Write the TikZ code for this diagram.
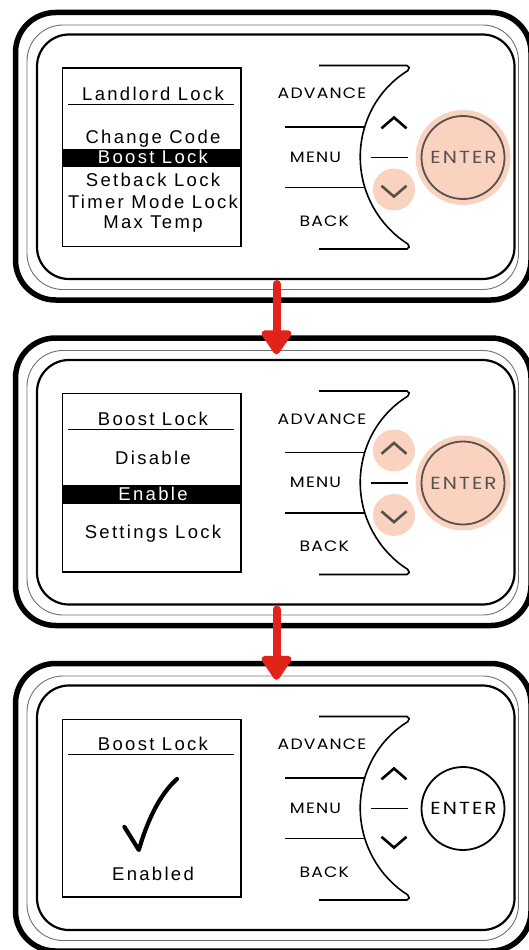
\documentclass[tikz,border=0pt]{standalone}
\usepackage{fontspec}
\setmainfont{Liberation Sans}
\newfontfamily\scrfont[LetterSpace=12.5]{Liberation Sans}
\newfontfamily\btnfont[LetterSpace=8,FakeStretch=1.15]{Poppins}
\newfontfamily\entfont[LetterSpace=12,FakeStretch=1.15]{Poppins}
\usetikzlibrary{arrows.meta}
\definecolor{peach}{HTML}{F9D3C0}
\definecolor{ringgray}{HTML}{5A504B}
\definecolor{arrowred}{HTML}{E2231A}
\definecolor{thingray}{HTML}{707070}

\newcommand\thermoframe{%
  \draw[thickframe] (15.5,12.5) rectangle (531,300);
  \draw[thinframe] (27,25) rectangle (518.5,289.5);
  \draw[innerframe] (37,34.5) rectangle (514.5,279);
}
% #1 prefix, #2 up fill, #3 up caret, #4 down fill, #5 down caret, #6 enter fill, #7 enter ring
\newcommand\thermobuttons[7]{%
  \fill[#2] (394,125) circle[radius=21];
  \fill[#4] (394,189.5) circle[radius=21];
  \fill[#6] (463,157.5) circle[radius=47.5];
  \draw[btnline] (319,65.5) -- (409,65.5) -- ([shift={(-121.5:102.7)}]463,157.3)
     arc[start angle=-121.5, end angle=-238.5, radius=102.7] -- (409,249) -- (319,249);
  \draw[btnline] (285,127) -- (364.8,127);
  \draw[btnline] (285,187.5) -- (364.8,187.5);
  \draw[btnline] (371,157.3) -- (408,157.3);
  \draw[caret,draw=#3] (381.5,128.3) -- (394,117.5) -- (406.5,128.3);
  \draw[caret,draw=#5] (381.5,185.8) -- (394,196.6) -- (406.5,185.8);
  \node[btnlabel] (#1adv) at (322,98.5) {ADVANCE};
  \node[btnlabel] (#1menu) at (315.5,162) {MENU};
  \node[btnlabel] (#1back) at (324.3,226.3) {BACK};
  \node[enterring,draw=#7,text=#7] (#1enter) at (463,157.5) {};
  \node[enterlabel,text=#7] (#1entertext) at (463.5,163.6) {ENTER};
}

\begin{document}
\begin{tikzpicture}[x=1pt,y=-1pt,
  thickframe/.style={line width=5.5pt, rounded corners=40pt},
  thinframe/.style={line width=0.9pt, draw=thingray, rounded corners=36pt},
  innerframe/.style={line width=2.2pt, rounded corners=32pt},
  screenbox/.style={line width=1.6pt},
  uline/.style={line width=1.8pt},
  scr/.style={font=\scrfont\fontsize{18.5}{21}\selectfont, inner sep=0pt, anchor=base},
  btnline/.style={line width=1.6pt, rounded corners=2pt},
  caret/.style={line width=2.6pt, miter limit=10},
  btnlabel/.style={font=\btnfont\fontsize{15}{17}\selectfont, inner sep=0pt, anchor=base},
  enterlabel/.style={font=\entfont\fontsize{17.5}{19}\selectfont, inner sep=0pt, anchor=base},
  enterring/.style={circle, minimum size=83pt, inner sep=0pt, line width=1.8pt},
  redarrow/.style={draw=arrowred, line width=8pt, line cap=round,
     -{Triangle[length=27pt,width=34pt,round=false]}},
]
\useasboundingbox (0,0) rectangle (529,950);
\clip (0,0) rectangle (529,950);

% ---------- panel 1 ----------
\thermoframe
\thermobuttons{a}{white}{black}{peach}{ringgray}{peach}{ringgray}
\draw[screenbox] (62.3,68) rectangle (240.7,246.5);
\node[scr] (aTitle) at (153,100.3) {Landlord Lock};
\draw[uline] (68,104.5) -- (234,104.5);
\node[scr] (aItemA) at (153,143.3) {Change Code};
\fill (62.3,148.5) rectangle (240.7,166.8);
\node[scr,text=white] (aItemB) at (153,163.3) {Boost Lock};
\node[scr] (aItemC) at (153,186.5) {Setback Lock};
\node[scr] (aItemD) at (153,208.3) {Timer Mode Lock};
\node[scr] (aItemE) at (153,228.5) {Max Temp};

% ---------- panel 2 ----------
\begin{scope}[shift={(0,325.5)}]
\thermoframe
\thermobuttons{b}{peach}{ringgray}{peach}{ringgray}{peach}{ringgray}
\end{scope}
\draw[screenbox] (62.3,393.3) rectangle (240.7,571.7);
\node[scr] (bTitle) at (153,425.7) {Boost Lock};
\draw[uline] (68,429.5) -- (234,429.5);
\node[scr] (bItemA) at (153,464) {Disable};
\fill (62.3,485) rectangle (240.7,504.3);
\node[scr,text=white] (bItemB) at (153,500.7) {Enable};
\node[scr] (bItemC) at (153,538.3) {Settings Lock};

% ---------- panel 3 ----------
\begin{scope}[shift={(0,651)}]
\thermoframe
\thermobuttons{c}{white}{black}{white}{black}{white}{black}
\end{scope}
\draw[screenbox] (62.3,719.3) rectangle (240.7,896.7);
\node[scr] (cTitle) at (153,750.7) {Boost Lock};
\draw[uline] (68,754.5) -- (234,754.5);
\draw[line width=4.2pt, line cap=round, line join=round]
  (124.5,827) -- (138.8,850) .. controls (147,822) and (159,795) .. (177,779);
\node[scr] (cItemA) at (153,880) {Enabled};

% ---------- arrows ----------
\coordinate (arrAstart) at (276.5,284);
\coordinate (arrAend) at (276.5,354.3);
\coordinate (arrBstart) at (276.5,609.5);
\coordinate (arrBend) at (276.5,679.8);
\draw[redarrow] (arrAstart) -- (arrAend);
\draw[redarrow] (arrBstart) -- (arrBend);
\end{tikzpicture}
\end{document}
